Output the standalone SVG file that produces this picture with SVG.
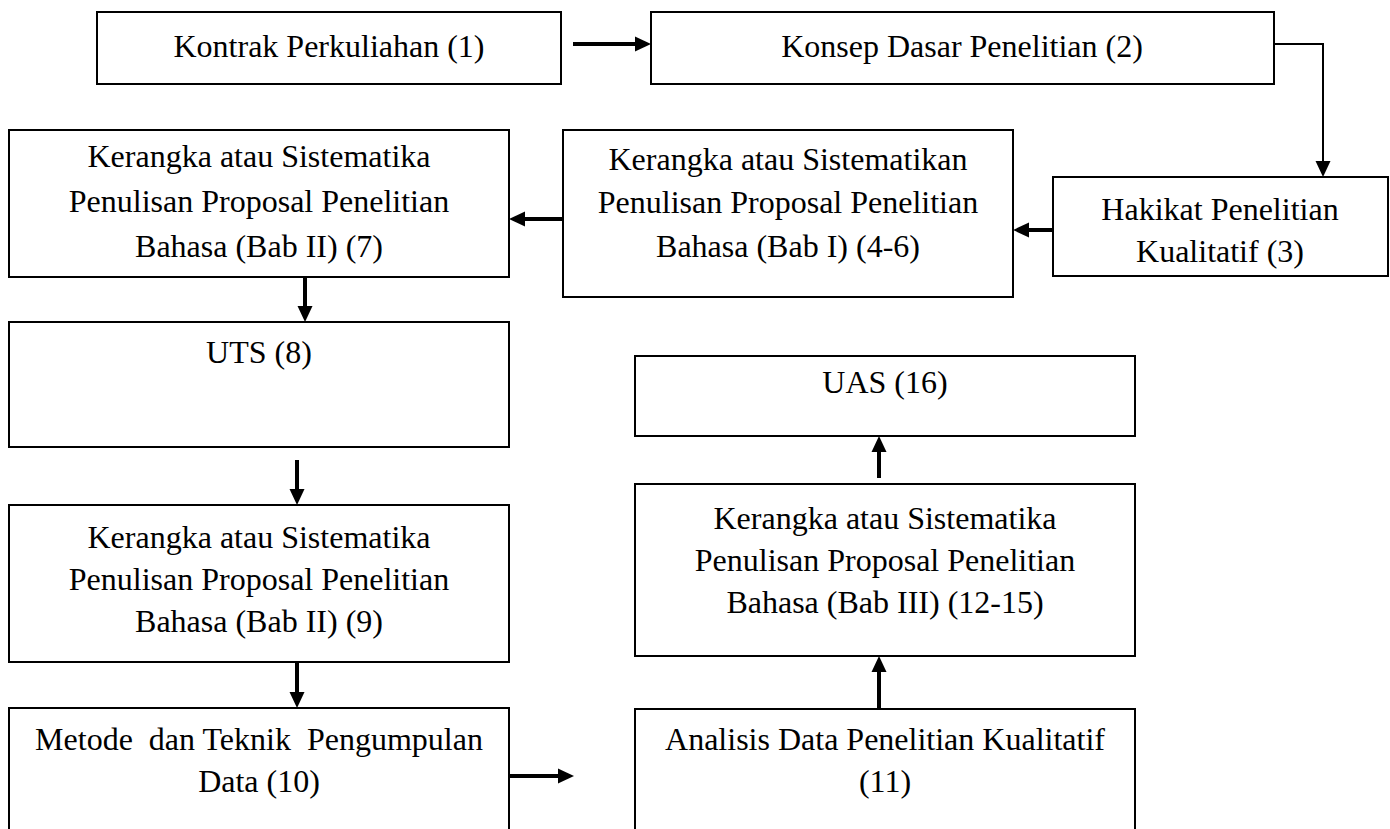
<svg xmlns="http://www.w3.org/2000/svg" width="1390" height="829" viewBox="0 0 1390 829">
<style>
.box{fill:#fff;stroke:#000;stroke-width:2}
.t{font-family:"Liberation Serif","Times New Roman",serif;font-size:32px;fill:#000;text-anchor:middle;white-space:pre}
.thick{stroke:#000;stroke-width:4;fill:none}
.thin{stroke:#000;stroke-width:2;fill:none}
</style>
<defs>
<marker id="ah" markerUnits="userSpaceOnUse" markerWidth="16" markerHeight="15" refX="2" refY="7.5" orient="auto" overflow="visible">
<path d="M0,0 L16,7.5 L0,15 z" fill="#000"/>
</marker>
</defs>
<rect x="0" y="0" width="1390" height="829" fill="#fff"/>
<g id="n1"><rect class="box" x="97" y="12" width="464" height="72"/><text class="t" x="329" y="57">Kontrak Perkuliahan (1)</text></g>
<g id="n2"><rect class="box" x="651" y="12" width="623" height="72"/><text class="t" x="962" y="57">Konsep Dasar Penelitian (2)</text></g>
<g id="n3"><rect class="box" x="1053" y="177" width="335" height="99"/><text class="t" x="1220" y="220">Hakikat Penelitian</text><text class="t" x="1220" y="262">Kualitatif (3)</text></g>
<g id="n4"><rect class="box" x="563" y="130" width="450" height="167"/><text class="t" x="788" y="170">Kerangka atau Sistematikan</text><text class="t" x="788" y="213">Penulisan Proposal Penelitian</text><text class="t" x="788" y="257">Bahasa (Bab I) (4-6)</text></g>
<g id="n7"><rect class="box" x="9" y="130" width="500" height="147"/><text class="t" x="259" y="167">Kerangka atau Sistematika</text><text class="t" x="259" y="212">Penulisan Proposal Penelitian</text><text class="t" x="259" y="257">Bahasa (Bab II) (7)</text></g>
<g id="n8"><rect class="box" x="9" y="322" width="500" height="125"/><text class="t" x="259" y="363">UTS (8)</text></g>
<g id="n9"><rect class="box" x="9" y="505" width="500" height="157"/><text class="t" x="259" y="548">Kerangka atau Sistematika</text><text class="t" x="259" y="590">Penulisan Proposal Penelitian</text><text class="t" x="259" y="632">Bahasa (Bab II) (9)</text></g>
<g id="n10"><rect class="box" x="9" y="708" width="500" height="140"/><text class="t" x="259" y="750">Metode  dan Teknik  Pengumpulan</text><text class="t" x="259" y="792">Data (10)</text></g>
<g id="n11"><rect class="box" x="635" y="709" width="500" height="140"/><text class="t" x="885" y="750">Analisis Data Penelitian Kualitatif</text><text class="t" x="885" y="792">(11)</text></g>
<g id="n12"><rect class="box" x="635" y="484" width="500" height="172"/><text class="t" x="885" y="529">Kerangka atau Sistematika</text><text class="t" x="885" y="571">Penulisan Proposal Penelitian</text><text class="t" x="885" y="613">Bahasa (Bab III) (12-15)</text></g>
<g id="n16"><rect class="box" x="635" y="356" width="500" height="80"/><text class="t" x="885" y="393">UAS (16)</text></g>
<g id="connectors">
<line class="thick" x1="573" y1="44" x2="637" y2="44" marker-end="url(#ah)"/>
<polyline class="thin" points="1274,44 1323,44 1323,163" marker-end="url(#ah)"/>
<line class="thick" x1="1053" y1="230" x2="1027" y2="230" marker-end="url(#ah)"/>
<line class="thick" x1="563" y1="219" x2="523" y2="219" marker-end="url(#ah)"/>
<line class="thick" x1="305" y1="277" x2="305" y2="308" marker-end="url(#ah)"/>
<line class="thick" x1="297" y1="460" x2="297" y2="491" marker-end="url(#ah)"/>
<line class="thick" x1="297" y1="663" x2="297" y2="694" marker-end="url(#ah)"/>
<line class="thick" x1="509" y1="776" x2="560" y2="776" marker-end="url(#ah)"/>
<line class="thick" x1="879" y1="709" x2="879" y2="670" marker-end="url(#ah)"/>
<line class="thick" x1="879" y1="478" x2="879" y2="450" marker-end="url(#ah)"/>
</g>
</svg>
